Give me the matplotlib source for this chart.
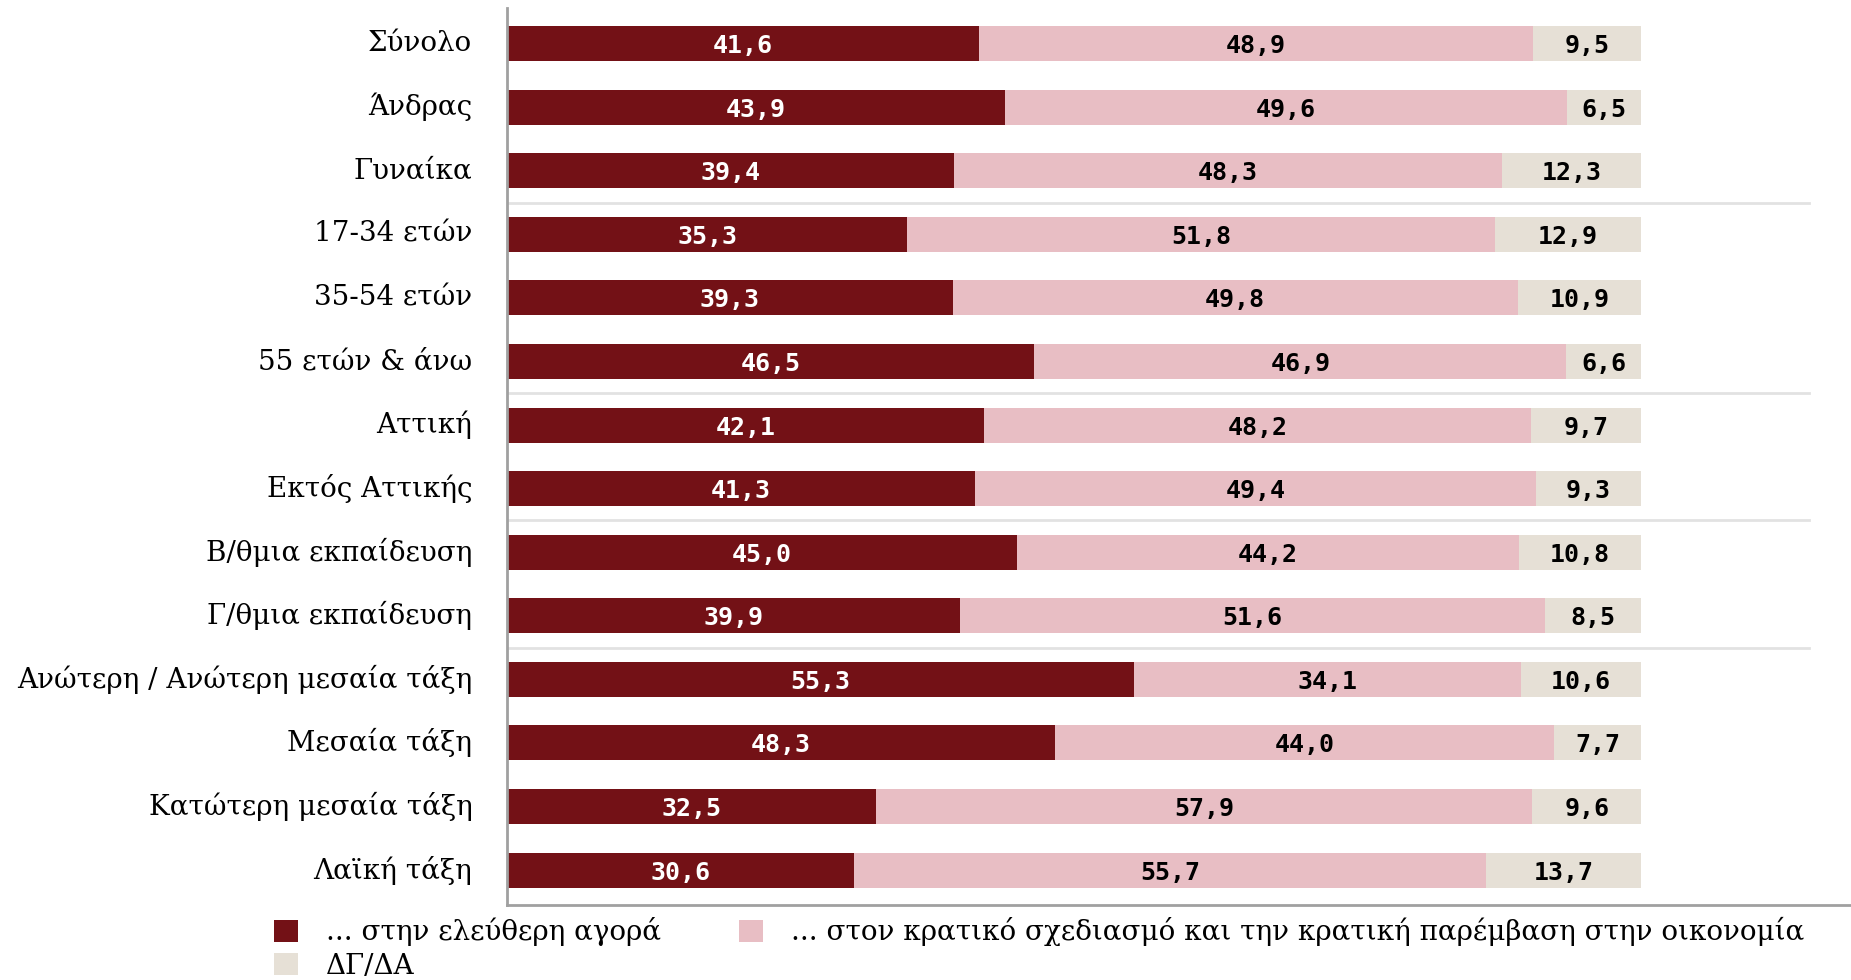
import matplotlib.pyplot as plt
from matplotlib.patches import Patch

categories = ["Σύνολο", "Άνδρας", "Γυναίκα", "17-34 ετών", "35-54 ετών",
              "55 ετών & άνω", "Αττική", "Εκτός Αττικής", "Β/θμια εκπαίδευση",
              "Γ/θμια εκπαίδευση", "Ανώτερη / Ανώτερη μεσαία τάξη", "Μεσαία τάξη",
              "Κατώτερη μεσαία τάξη", "Λαϊκή τάξη"]
free_market = [41.6, 43.9, 39.4, 35.3, 39.3, 46.5, 42.1, 41.3, 45.0, 39.9, 55.3, 48.3, 32.5, 30.6]
state_plan = [48.9, 49.6, 48.3, 51.8, 49.8, 46.9, 48.2, 49.4, 44.2, 51.6, 34.1, 44.0, 57.9, 55.7]
dont_know = [9.5, 6.5, 12.3, 12.9, 10.9, 6.6, 9.7, 9.3, 10.8, 8.5, 10.6, 7.7, 9.6, 13.7]
series_names = ["... στην ελεύθερη αγορά",
                "... στον κρατικό σχεδιασμό και την κρατική παρέμβαση στην οικονομία",
                "ΔΓ/ΔΑ"]
group_breaks = [2, 5, 7, 9]

colors = ["#731116", "#E8BEC4", "#E6E0D6"]
text_colors = ["white", "black", "black"]
serif = "DejaVu Serif"
mono = "DejaVu Sans Mono"

fig = plt.figure(figsize=(18.51, 9.8), dpi=100)
ax = fig.add_axes([0.2739, 0.0765, 0.7261, 0.9153])

y = list(range(len(categories)))
left = [0.0] * len(categories)
for vals, c, tc in zip([free_market, state_plan, dont_know], colors, text_colors):
    ax.barh(y, vals, left=left, height=0.55, color=c, linewidth=0)
    for i, v in enumerate(vals):
        ax.text(left[i] + v / 2, i + 0.04, f"{v:.1f}".replace(".", ","), ha="center", va="center",
                color=tc, fontsize=18, family=mono, fontweight="semibold")
    left = [l + v for l, v in zip(left, vals)]

for b in group_breaks:
    ax.axhline(b + 0.5, xmin=0, xmax=0.969, color="#e2e2e2", linewidth=2, zorder=0)

ax.set_xlim(0, 118.5)
ax.set_ylim(13.55, -0.56)
ax.set_yticks(y)
ax.set_yticklabels(categories, family=serif, fontsize=20)
for lbl in ax.get_yticklabels():
    lbl.set_va("center")
ax.tick_params(axis="y", length=0, pad=25)
ax.set_xticks([])
for s in ["top", "right"]:
    ax.spines[s].set_visible(False)
for s in ["left", "bottom"]:
    ax.spines[s].set_color("#a0a0a0")
    ax.spines[s].set_linewidth(2)

handles = [Patch(facecolor=c, edgecolor="none") for c in colors]
fig.legend([handles[0], handles[2], handles[1]],
           [series_names[0], series_names[2], series_names[1]],
           ncol=2, loc="upper left", bbox_to_anchor=(0.148, 0.064), frameon=False,
           prop={"family": serif, "size": 20}, handlelength=0.87, handleheight=0.87,
           handletextpad=1.0, columnspacing=2.8, labelspacing=0.22, borderpad=0,
           borderaxespad=0)

fig.savefig("out.png", dpi=100)
